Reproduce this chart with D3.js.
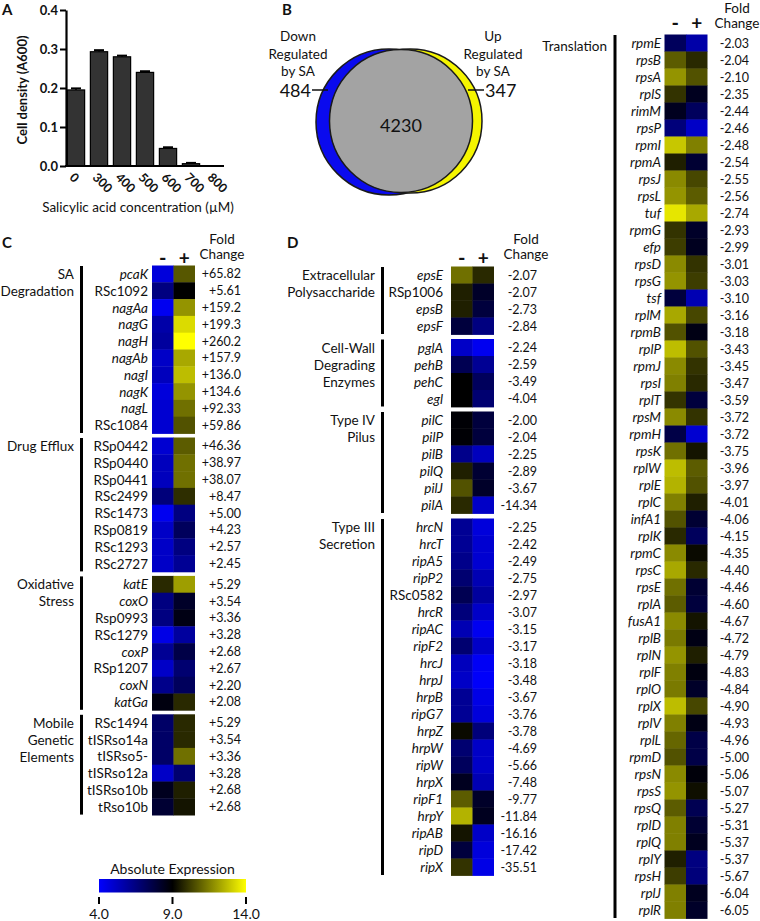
<!DOCTYPE html>
<html><head><meta charset="utf-8">
<script src="https://cdn.jsdelivr.net/npm/d3@7"></script>
<style>
body{margin:0;background:#fff;}
svg text{font-family:Lato,"Open Sans",sans-serif;fill:#111;}
</style></head><body>
<svg id="fig" width="760" height="921"></svg>
<script>
// ---------- Panel A data ----------
const concLabels = ["0","300","400","500","600","700","800"];
const cellDensity = [0.195,0.293,0.280,0.240,0.045,0.006,0.000];
const densityErr = [0.004,0.004,0.003,0.003,0.003,0.002,0.000];
const yTickValues = [0,0.1,0.2,0.3,0.4];

// ---------- Panel B data ----------
const vennCounts = [484,4230,347]; // down only, unchanged, up only

// ---------- Panel C data ----------
const saGenes = ["pcaK","RSc1092","nagAa","nagG","nagH","nagAb","nagI","nagK","nagL","RSc1084"];
const saMinus = [4.7,6.5,4.3,5.7,5.9,5.1,5.3,4.7,4.9,4.9];
const saPlus  = [10.7,9.0,11.9,13.3,14.0,12.3,12.7,11.9,11.2,10.6];
const saFold  = [65.82,5.61,159.2,199.3,260.2,157.9,136.0,134.6,92.33,59.86];

const deGenes = ["RSp0442","RSp0440","RSp0441","RSc2499","RSc1473","RSp0819","RSc1293","RSc2727"];
const deMinus = [4.9,5.3,5.3,6.6,4.3,5.1,5.1,5.1];
const dePlus  = [10.8,11.2,11.2,9.9,6.5,7.2,6.5,6.1];
const deFold  = [46.36,38.97,38.07,8.47,5.00,4.23,2.57,2.45];

const osGenes = ["katE","coxO","Rsp0993","RSc1279","coxP","RSp1207","coxN","katGa"];
const osMinus = [9.8,6.5,6.5,4.5,6.1,5.1,6.3,8.7];
const osPlus  = [12.1,8.2,8.6,5.9,7.6,6.8,7.2,9.8];
const osFold  = [5.29,3.54,3.36,3.28,2.68,2.67,2.20,2.08];

const mgGenes = ["RSc1494","tISRso14a","tISRso5-","tISRso12a","tISRso10b","tRso10b"];
const mgMinus = [7.0,7.0,7.0,5.1,8.4,8.0];
const mgPlus  = [9.8,9.8,11.2,6.8,9.6,9.4];
const mgFold  = [5.29,3.54,3.36,3.28,2.68,2.68];

// ---------- Panel D data ----------
const epsGenes = ["epsE","RSp1006","epsB","epsF"];
const epsMinus = [11.2,9.6,9.6,7.8];
const epsPlus  = [9.8,8.2,7.8,6.5];
const epsFold  = [-2.07,-2.07,-2.73,-2.84];

const cwGenes = ["pglA","pehB","pehC","egl"];
const cwMinus = [5.1,7.4,9.0,9.0];
const cwPlus  = [4.3,6.1,7.2,6.8];
const cwFold  = [-2.24,-2.59,-3.49,-4.04];

const t4Genes = ["pilC","pilP","pilB","pilQ","pilJ","pilA"];
const t4Minus = [8.9,8.9,6.3,9.6,10.6,9.8];
const t4Plus  = [7.8,7.8,5.3,8.0,8.2,5.1];
const t4Fold  = [-2.00,-2.04,-2.25,-2.89,-3.67,-14.34];

const t3Genes = ["hrcN","hrcT","ripA5","ripP2","RSc0582","hrcR","ripAC","ripF2","hrcJ","hrpJ","hrpB","ripG7","hrpZ","hrpW","ripW","hrpX","ripF1","hrpY","ripAB","ripD","ripX"];
const t3Minus = [6.1,6.1,6.3,6.8,7.4,6.6,5.5,6.8,5.3,5.1,6.1,6.1,9.2,6.8,7.2,8.4,10.8,12.5,9.4,7.8,10.0];
const t3Plus  = [4.7,4.9,4.9,5.5,5.9,5.1,4.3,5.1,4.2,4.1,4.5,4.7,6.6,5.1,5.1,5.5,8.2,8.4,5.1,4.7,4.5];
const t3Fold  = [-2.25,-2.42,-2.49,-2.75,-2.97,-3.07,-3.15,-3.17,-3.18,-3.48,-3.67,-3.76,-3.78,-4.69,-5.66,-7.48,-9.77,-11.84,-16.16,-17.42,-35.51];

// ---------- Translation panel data ----------
const trGenes = ["rpmE","rpsB","rpsA","rplS","rimM","rpsP","rpmI","rpmA","rpsJ","rpsL","tuf","rpmG","efp","rpsD","rpsG","tsf","rplM","rpmB","rplP","rpmJ","rpsI","rplT","rpsM","rpmH","rpsK","rplW","rplE","rplC","infA1","rplK","rpmC","rpsC","rpsE","rplA","fusA1","rplB","rplN","rplF","rplO","rplX","rplV","rplL","rpmD","rpsN","rpsS","rpsQ","rplD","rplQ","rplY","rpsH","rplJ","rplR"];
const trMinus = [7.2,10.8,11.9,10.0,8.4,6.6,12.9,9.6,11.7,11.9,13.5,10.0,10.2,11.7,11.9,7.8,12.3,10.6,12.7,11.7,11.5,10.0,11.7,7.6,11.2,12.7,12.5,11.5,10.6,9.8,11.7,12.3,11.2,10.8,11.7,11.4,11.9,11.5,11.4,12.7,11.5,11.0,10.6,11.7,11.9,10.8,11.5,11.5,9.6,10.2,11.5,11.5];
const trPlus  = [5.7,9.8,10.6,8.4,7.2,5.1,11.5,8.0,10.4,10.8,12.3,8.2,8.4,10.0,10.2,5.5,10.4,8.6,10.6,10.0,9.8,7.8,10.0,4.9,9.4,10.8,10.6,9.6,8.0,7.2,9.2,9.8,8.0,7.8,9.4,8.6,9.6,8.7,8.2,10.4,8.6,7.6,7.6,8.8,9.3,7.4,8.0,8.4,6.5,6.6,8.4,8.2];
const trFold  = [-2.03,-2.04,-2.10,-2.35,-2.44,-2.46,-2.48,-2.54,-2.55,-2.56,-2.74,-2.93,-2.99,-3.01,-3.03,-3.10,-3.16,-3.18,-3.43,-3.45,-3.47,-3.59,-3.72,-3.72,-3.75,-3.96,-3.97,-4.01,-4.06,-4.15,-4.35,-4.40,-4.46,-4.60,-4.67,-4.72,-4.79,-4.83,-4.84,-4.90,-4.93,-4.96,-5.00,-5.06,-5.07,-5.27,-5.31,-5.37,-5.37,-5.67,-6.04,-6.05];

const colorTicks = [4.0,9.0,14.0];

// ---------- drawing ----------
const svg = d3.select("#fig");
const FS = 13.5;

function panelLetter(t,x,y){
  svg.append("text").attr("x",x).attr("y",y).attr("font-size",15).attr("font-weight","bold")
    .attr("dominant-baseline","central").text(t);
}

// ===== Panel A =====
panelLetter("A",2,9);
const xA = d3.scaleBand().domain(concLabels).range([66,224]).paddingInner(0.25).paddingOuter(0.06);
const yA = d3.scaleLinear().domain([0,0.4]).range([166,10]);
const gA = svg.append("g");
gA.selectAll("rect.bar").data(concLabels).join("rect")
  .attr("x",d=>xA(d)).attr("width",xA.bandwidth())
  .attr("y",(d,i)=>yA(cellDensity[i])).attr("height",(d,i)=>yA(0)-yA(cellDensity[i]))
  .attr("fill","#333").attr("stroke","#000").attr("stroke-width",1.2);
gA.selectAll("g.err").data(concLabels).join("g").each(function(d,i){
  if(densityErr[i]<=0) return;
  const cx = xA(d)+xA.bandwidth()/2, g=d3.select(this);
  const y1=yA(cellDensity[i]+densityErr[i]), y0=yA(cellDensity[i]);
  g.append("line").attr("x1",cx).attr("x2",cx).attr("y1",y0).attr("y2",y1).attr("stroke","#000").attr("stroke-width",1.5);
  g.append("line").attr("x1",cx-5).attr("x2",cx+5).attr("y1",y1).attr("y2",y1).attr("stroke","#000").attr("stroke-width",2);
});
const yAxisA = gA.append("g").attr("transform","translate(66,0)")
  .call(d3.axisLeft(yA).tickValues(yTickValues).tickFormat(d3.format(".1f")).tickSize(6).tickSizeOuter(0));
yAxisA.select(".domain").attr("stroke-width",2.2);
yAxisA.selectAll(".tick line").attr("stroke-width",2);
yAxisA.selectAll(".tick text").attr("font-size",13).attr("font-weight","bold").attr("font-family","Lato").attr("fill","#111").attr("x",-8);
gA.append("line").attr("x1",65).attr("x2",224).attr("y1",yA(0)).attr("y2",yA(0)).attr("stroke","#000").attr("stroke-width",2.2);
gA.selectAll("text.xl").data(concLabels).join("text")
  .attr("transform",d=>`translate(${xA(d)+xA.bandwidth()/2-4},${yA(0)+9}) rotate(45)`)
  .attr("font-size",12.5).attr("font-weight","bold").attr("dominant-baseline","central").text(d=>d);
gA.append("text").attr("transform","translate(27,90) rotate(-90)").attr("text-anchor","middle")
  .attr("font-size",13).attr("font-weight","bold").text("Cell density  (A600)");
gA.append("text").attr("x",138).attr("y",207).attr("text-anchor","middle").attr("dominant-baseline","central")
  .attr("font-size",FS).text("Salicylic acid concentration (\u00B5M)");

// ===== Panel B =====
panelLetter("B",282,9);
const rVenn = d3.scaleSqrt().domain([0,vennCounts[1]]).range([0,71.5]);
const gB = svg.append("g");
gB.append("circle").attr("cx",389).attr("cy",122).attr("r",73).attr("fill","#0a0aee").attr("stroke","#1a1a1a").attr("stroke-width",1.5);
gB.append("circle").attr("cx",410).attr("cy",121).attr("r",72).attr("fill","#f5f500").attr("stroke","#1a1a1a").attr("stroke-width",1.5);
gB.append("circle").attr("cx",401).attr("cy",121).attr("r",rVenn(vennCounts[1])).attr("fill","#a3a3a3").attr("stroke","#1a1a1a").attr("stroke-width",1.5);
gB.append("text").attr("x",401).attr("y",125).attr("text-anchor","middle").attr("dominant-baseline","central").attr("font-size",18).text(vennCounts[1]);
[["Down",36],["Regulated",53.5],["by SA",71]].forEach(([t,y])=>{
  gB.append("text").attr("x",298).attr("y",y).attr("text-anchor","middle").attr("dominant-baseline","central").attr("font-size",FS).text(t);
});
[["Up",36],["Regulated",53.5],["by SA",71]].forEach(([t,y])=>{
  gB.append("text").attr("x",493).attr("y",y).attr("text-anchor","middle").attr("dominant-baseline","central").attr("font-size",FS).text(t);
});
gB.append("text").attr("x",311).attr("y",90).attr("text-anchor","end").attr("dominant-baseline","central").attr("font-size",18).text(vennCounts[0]);
gB.append("line").attr("x1",312).attr("x2",328).attr("y1",90).attr("y2",90).attr("stroke","#111").attr("stroke-width",1.5);
gB.append("text").attr("x",485).attr("y",90).attr("text-anchor","start").attr("dominant-baseline","central").attr("font-size",18).text(vennCounts[2]);
gB.append("line").attr("x1",468).attr("x2",484).attr("y1",90).attr("y2",90).attr("stroke","#111").attr("stroke-width",1.5);

// ===== Heatmaps =====
const heatColor = d3.scaleLinear().domain([4,9,14]).range(["#0000ff","#000000","#ffff00"]).clamp(true);
const fmtFold = v => (v>0?"+":"") + (Math.abs(v)>=100 ? v.toFixed(1) : v.toFixed(2));
const isItalic = n => !/^(RS|Rs|tISR|tRso)/.test(n);

function heatPanel(groups, cfg){
  const g = svg.append("g");
  const xH = d3.scaleBand().domain(["-","+"]).range([cfg.x0, cfg.x0+2*cfg.cw]);
  groups.forEach((grp,gi)=>{
    const top = cfg.tops[gi];
    const n = grp.genes.length;
    const yH = d3.scaleBand().domain(d3.range(n)).range([top, top+n*cfg.h]);
    const rows = d3.range(n);
    g.selectAll(null).data(rows).join("rect")
      .attr("x",xH("-")).attr("width",xH.bandwidth()+0.4)
      .attr("y",i=>yH(i)).attr("height",yH.bandwidth()+0.4)
      .attr("fill",i=>heatColor(grp.minus[i]));
    g.selectAll(null).data(rows).join("rect")
      .attr("x",xH("+")).attr("width",xH.bandwidth())
      .attr("y",i=>yH(i)).attr("height",yH.bandwidth()+0.4)
      .attr("fill",i=>heatColor(grp.plus[i]));
    g.selectAll(null).data(rows).join("text")
      .attr("x",cfg.geneX).attr("y",i=>yH(i)+yH.bandwidth()/2)
      .attr("text-anchor","end").attr("dominant-baseline","central")
      .attr("font-size",FS).attr("font-style",i=>isItalic(grp.genes[i])?"italic":"normal")
      .text(i=>grp.genes[i]);
    g.selectAll(null).data(rows).join("text")
      .attr("x",cfg.valX).attr("y",i=>yH(i)+yH.bandwidth()/2)
      .attr("text-anchor","end").attr("dominant-baseline","central")
      .attr("font-size",12.5).text(i=>fmtFold(grp.fold[i]));
    g.append("line").attr("x1",cfg.barX).attr("x2",cfg.barX)
      .attr("y1",top+0.5).attr("y2",top+n*cfg.h-0.5).attr("stroke","#000").attr("stroke-width",3);
    grp.label.forEach((t,k)=>{
      g.append("text").attr("x",cfg.groupX).attr("y",top+cfg.h/2+(cfg.labelDy||0)+k*17)
        .attr("text-anchor","end").attr("dominant-baseline","central").attr("font-size",FS).text(t);
    });
  });
  // headers
  g.append("text").attr("x",xH("-")+xH.bandwidth()/2).attr("y",cfg.headY).attr("text-anchor","middle")
    .attr("dominant-baseline","central").attr("font-size",20).attr("font-weight","bold").text("-");
  g.append("text").attr("x",xH("+")+xH.bandwidth()/2).attr("y",cfg.headY).attr("text-anchor","middle")
    .attr("dominant-baseline","central").attr("font-size",19).attr("font-weight","bold").text("+");
  g.append("text").attr("x",cfg.foldX).attr("y",cfg.foldY).attr("text-anchor","middle")
    .attr("dominant-baseline","central").attr("font-size",FS).text("Fold");
  g.append("text").attr("x",cfg.foldX).attr("y",cfg.foldY+15).attr("text-anchor","middle")
    .attr("dominant-baseline","central").attr("font-size",FS).text("Change");
}

// Panel C
panelLetter("C",2,242);
heatPanel([
  {label:["SA","Degradation"],genes:saGenes,minus:saMinus,plus:saPlus,fold:saFold},
  {label:["Drug Efflux"],genes:deGenes,minus:deMinus,plus:dePlus,fold:deFold},
  {label:["Oxidative","Stress"],genes:osGenes,minus:osMinus,plus:osPlus,fold:osFold},
  {label:["Mobile","Genetic","Elements"],genes:mgGenes,minus:mgMinus,plus:mgPlus,fold:mgFold}
],{x0:152,cw:21.5,h:16.8,tops:[265.5,437.5,575.9,714.3],geneX:148,valX:241,barX:81.5,groupX:74,
  headY:257,foldX:222,foldY:239});

// Panel D
panelLetter("D",287,242);
heatPanel([
  {label:["Extracellular","Polysaccharide"],genes:epsGenes,minus:epsMinus,plus:epsPlus,fold:epsFold},
  {label:["Cell-Wall","Degrading","Enzymes"],genes:cwGenes,minus:cwMinus,plus:cwPlus,fold:cwFold},
  {label:["Type IV","Pilus"],genes:t4Genes,minus:t4Minus,plus:t4Plus,fold:t4Fold},
  {label:["Type III","Secretion"],genes:t3Genes,minus:t3Minus,plus:t3Plus,fold:t3Fold}
],{x0:451,cw:21.5,h:17,tops:[266.5,339,411.5,518.5],geneX:443,valX:537,barX:382.5,groupX:375,
  headY:257,foldX:526,foldY:239});

// Translation panel
heatPanel([
  {label:["Translation"],genes:trGenes,minus:trMinus,plus:trPlus,fold:trFold}
],{x0:664.5,cw:21.5,h:17,tops:[34.5],geneX:661,valX:749,barX:615,groupX:607,labelDy:3,
  headY:22,foldX:737,foldY:8});

// ===== Color bar =====
const xCB = d3.scaleLinear().domain([4,14]).range([99,246]);
const defs = svg.append("defs");
const grad = defs.append("linearGradient").attr("id","cbgrad");
colorTicks.forEach(v=>{
  grad.append("stop").attr("offset",((xCB(v)-xCB(4))/(xCB(14)-xCB(4))*100)+"%").attr("stop-color",heatColor(v));
});
svg.append("text").attr("x",(xCB(4)+xCB(14))/2).attr("y",868).attr("text-anchor","middle")
  .attr("dominant-baseline","central").attr("font-size",14).text("Absolute Expression");
svg.append("rect").attr("x",xCB(4)).attr("y",879).attr("width",xCB(14)-xCB(4)).attr("height",13.5).attr("fill","url(#cbgrad)");
svg.selectAll("line.cbt").data(colorTicks).join("line")
  .attr("x1",d=>xCB(d)).attr("x2",d=>xCB(d)).attr("y1",897).attr("y2",904).attr("stroke","#000").attr("stroke-width",2);
svg.selectAll("text.cbl").data(colorTicks).join("text")
  .attr("x",d=>xCB(d)).attr("y",913).attr("text-anchor","middle").attr("dominant-baseline","central")
  .attr("font-size",14).text(d=>d.toFixed(1));
</script>
</body></html>
